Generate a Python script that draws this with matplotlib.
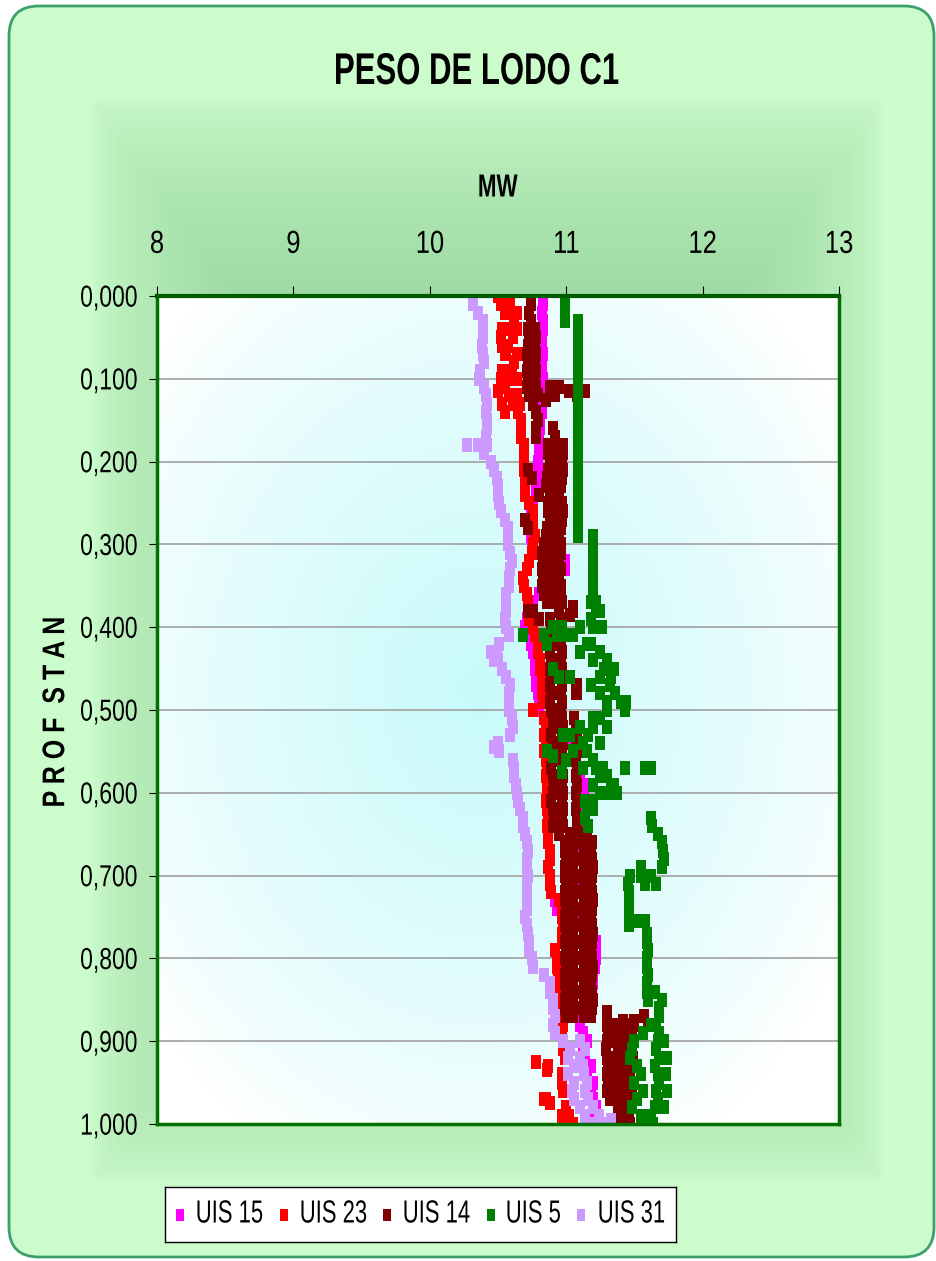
import numpy as np
import matplotlib
matplotlib.use("Agg")
import matplotlib.pyplot as plt
from matplotlib.patches import FancyBboxPatch
from matplotlib.patheffects import AbstractPathEffect
from matplotlib.transforms import Affine2D
from matplotlib.path import Path
from matplotlib.ticker import FuncFormatter

# ---- datos (profundidad estandarizada 0..1, paso 0.01) ----
depth = np.round(np.linspace(0, 1, 101), 2)
nan = np.nan

uis15 = [10.83, 10.83, 10.82, 10.83, 10.83, 10.82, 10.82, 10.83, 10.82, 10.82,
         10.83, 10.82, 10.82, 10.82, 10.82, 10.81, 10.81, 10.80, 10.80, 10.80,
         10.79, 10.79, 10.79, 10.78, 10.78, 10.76, 10.74, 10.73, 10.73, 10.74,
         10.75, 10.80, 10.99, 10.99, 10.90, 10.85, 10.80, 10.76, 10.73, 10.71,
         10.70, 10.72, 10.74, 10.76, 10.77, 10.77, 10.78, 10.78, 10.79, 10.80,
         10.80, 10.90, 10.95, 11.00, 11.03, 11.05, 11.06, 11.08, 11.10, 11.12,
         11.13, 11.12, 11.10, 11.08, 11.10, 11.12, 11.10, 11.10, 11.12, 11.13,
         11.12, 11.10, 11.10, 10.92, 10.93, 11.12, 11.15, 11.20, 11.22, 11.22,
         11.22, 11.21, 11.20, 11.20, 11.18, 11.15, 11.10, 11.08, 11.10, 11.12,
         11.15, 11.12, 11.14, 11.18, 11.15, 11.20, 11.18, 11.20, 11.22, 11.20, 11.20]

uis23 = [10.54, 10.59, 10.60, 10.62, 10.59, 10.61, 10.57, 10.56, 10.62, 10.60,
         10.58, 10.55, 10.58, 10.61, 10.65, 10.67, 10.67, 10.67, 10.69, 10.69,
         10.69, 10.69, 10.70, 10.70, 10.70, 10.73, 10.76, 10.76, 10.76, 10.77,
         10.76, 10.75, 10.73, 10.71, 10.68, 10.69, 10.71, 10.72, 10.72, 10.73,
         10.76, 10.77, 10.79, 10.79, 10.81, 10.81, 10.82, 10.82, 10.82, 10.83,
         10.76, 10.84, 10.85, 10.84, 10.85, 10.84, 10.85, 10.86, 10.85, 10.86,
         10.86, 10.85, 10.86, 10.87, 10.86, 10.87, 10.87, 10.88, 10.88, 10.87,
         10.88, 10.88, 10.89, 10.95, 10.97, 10.97, 10.98, 10.97, 10.97, 10.92,
         10.93, 10.93, 10.94, 10.93, 10.94, 10.94, 10.96, 10.97, 10.98, 10.97,
         10.98, 10.98, 10.99, 10.87, 10.97, 10.97, 10.98, 10.85, 11.00, 11.02, 11.05]
uis23_extra_depth = [0.00, 0.01, 0.02, 0.04, 0.05, 0.06, 0.07, 0.09, 0.10, 0.115, 0.13, 0.14,
                     0.02, 0.04, 0.07, 0.10, 0.12, 0.13,
                     0.925, 0.93, 0.935, 0.97, 0.975, 0.99, 1.00]
uis23_extra_mw = [10.50, 10.52, 10.55, 10.53, 10.52, 10.53, 10.55, 10.53, 10.52, 10.50, 10.53, 10.55,
                  10.64, 10.64, 10.64, 10.64, 10.64, 10.66,
                  10.78, 10.87, 10.86, 10.84, 10.88, 10.97, 11.00]

uis14_a = [10.74, 10.74, 10.73, 10.74, 10.72, 10.73, 10.72, 10.71, 10.72, 10.71,
           10.72, 10.71, 10.73, 10.76, 10.78, 10.79, 10.78, 10.78, 10.87, 10.87,
           10.88, 10.87, 10.86, 10.85, 10.80, 10.87, 10.87, 10.88, 10.86, 10.85,
           10.84, 10.82, 10.83, 10.82, 10.83, 10.82, 10.84, 10.86, 10.72, 10.80,
           10.89, 10.88, 10.89, 10.88, 10.89, 10.88, 10.89, 10.88, 10.89, 10.88,
           10.89, 10.90, 10.90, 10.89, 10.90, 10.91, 10.90, 10.89, 10.90, 10.91,
           10.90, 10.89, 10.90, 10.91, 10.90, 10.95, 10.99, 10.99, 11.00, 10.99,
           10.99, 11.00, 10.99, 10.99, 11.00, 10.99, 10.99, 11.00, 10.99, 11.00,
           10.99, 11.00, 10.99, 10.99, 11.00, 10.99, 10.99, 11.00, 11.30, 11.31,
           11.30, 11.29, 11.30, 11.31, 11.30, 11.31, 11.30, 11.32, 11.38, 11.40, 11.42]
uis14_b = [nan, nan, nan, nan, 10.77, 10.78, 10.77, 10.78, 10.77, 10.78,
           10.77, 10.78, 10.79, nan, nan, nan, 10.90, 10.92, 10.98, 10.98,
           10.97, 10.98, 10.97, 10.96, 10.95, 10.97, 10.98, 10.97, 10.96, 10.95,
           10.96, 10.96, 10.95, 10.96, 10.95, 10.96, 10.96, 10.97, 10.95, 10.96,
           10.96, 10.97, 10.96, 10.97, 10.96, 10.97, 10.96, 10.97, 10.96, 10.97,
           10.96, 10.97, 10.98, 10.97, 10.98, 10.97, 10.98, 10.97, 10.98, 10.97,
           10.98, 10.97, 10.98, 10.97, 10.98, 11.03, 11.06, 11.05, 11.06, 11.05,
           11.06, 11.05, 11.06, 11.05, 11.06, 11.05, 11.06, 11.05, 11.06, 11.05,
           11.06, 11.05, 11.06, 11.05, 11.06, 11.05, 11.06, 11.05, 11.37, 11.38,
           11.37, 11.38, 11.37, 11.38, 11.37, 11.38, 11.37, 11.38, 11.45, 11.46, 11.47]
uis14_c = [nan, nan, nan, nan, nan, nan, nan, nan, nan, nan,
           nan, nan, nan, nan, nan, nan, nan, nan, 10.92, 10.93,
           10.92, 10.93, 10.91, 10.91, 10.88, 10.92, 10.93, 10.92, 10.91, 10.90,
           10.89, 10.89, 10.90, 10.89, 10.90, 10.89, 10.90, 10.91, 11.05, 10.88,
           nan, nan, nan, nan, nan, nan, nan, 11.08, 11.08, nan,
           nan, 11.06, 11.07, 11.08, 11.07, 11.08, 11.07, 11.08, 11.07, 11.08,
           11.07, 11.08, 11.07, 11.08, 11.08, 11.10, 11.12, 11.13, 11.12, 11.13,
           11.12, 11.13, 11.12, 11.13, 11.12, 11.13, 11.12, 11.13, 11.12, 11.13,
           11.12, 11.13, 11.12, 11.13, 11.12, 11.13, 11.12, 11.13, 11.44, 11.45,
           11.44, 11.45, 11.44, 11.45, 11.44, 11.45, 11.44, 11.44, nan, nan, nan]
uis14_d = [nan] * 65 + [11.15, 11.19, 11.18, 11.19, 11.20,
           11.19, 11.18, 11.19, 11.20, 11.19, 11.18, 11.19, 11.20, 11.19, 11.18,
           11.19, 11.20, 11.19, 11.18, 11.19, 11.20, 11.19, 11.18, 11.49, 11.48,
           11.49, 11.48, 11.49, 11.48, 11.47, 11.46, 11.48, 11.47, nan, nan, nan]
uis14_extra_depth = [0.11, 0.11, 0.115, 0.12, 0.115, 0.12, 0.125,
                     0.21, 0.22, 0.27, 0.28, 0.385, 0.375, 0.38, 0.47, 0.48,
                     0.865, 0.875, 0.875, 0.87, 0.88]
uis14_extra_mw = [10.88, 10.95, 11.02, 11.08, 11.14, 10.92, 10.85,
                  10.72, 10.75, 10.70, 10.72, 11.03, 11.05, 10.76, 11.07, 11.07,
                  11.30, 11.42, 11.50, 11.57, 11.60]

uis5 = [10.99, 10.99, 10.99, 10.99, 11.09, 11.09, 11.09, 11.09, 11.09, 11.09,
        11.09, 11.09, 11.09, 11.09, 11.09, 11.09, 11.09, 11.09, 11.09, 11.09,
        11.09, 11.09, 11.09, 11.09, 11.09, 11.09, 11.09, 11.09, 11.09, 11.09,
        11.20, 11.20, 11.20, 11.20, 11.20, 11.20, 11.20, 11.22, 11.22, 11.18,
        11.10, 11.05, 11.18, 11.25, 11.30, 11.28, 11.25, 11.32, 11.36, 11.40,
        11.30, 11.25, 11.20, 11.16, 11.12, 11.15, 11.20, 11.22, 11.30, 11.33,
        11.30, 11.20, 11.15, 11.14, 11.16, 11.67, 11.70, 11.71, 11.72, 11.70,
        11.47, 11.45, 11.46, 11.46, 11.46, 11.46, 11.46, 11.59, 11.59, 11.60,
        11.59, 11.59, 11.60, 11.59, 11.59, 11.60, 11.68, 11.68, 11.66, 11.68,
        11.67, 11.66, 11.68, 11.65, 11.67, 11.68, 11.66, 11.67, 11.65, 11.62, 11.64]
uis5_extra_depth = [0.03, 0.29, 0.37, 0.38, 0.40, 0.40, 0.40, 0.40,
                    0.41, 0.41, 0.41, 0.42, 0.41, 0.42, 0.43, 0.44, 0.45, 0.46,
                    0.45, 0.46, 0.46, 0.47, 0.48, 0.49, 0.50, 0.49,
                    0.51, 0.52, 0.53, 0.53, 0.52, 0.55, 0.555, 0.55, 0.56, 0.54,
                    0.57, 0.57, 0.57, 0.57, 0.575, 0.57, 0.58, 0.59, 0.60, 0.59, 0.60,
                    0.61, 0.62, 0.63, 0.64, 0.69, 0.70, 0.70, 0.71, 0.71, 0.755, 0.755,
                    0.84, 0.85, 0.88, 0.89, 0.90, 0.91, 0.92, 0.93, 0.94, 0.95, 0.96,
                    0.97, 0.98, 0.99, 0.90, 0.92, 0.94, 0.96, 0.98, 1.00]
uis5_extra_mw = [11.09, 11.20, 11.18, 11.25, 11.20, 11.26, 10.90, 10.97,
                 10.68, 10.84, 10.93, 10.86, 11.00, 11.15, 11.10, 11.20, 11.35, 11.33,
                 10.90, 10.95, 11.03, 11.18, 11.25, 11.44, 11.43, 11.30,
                 11.20, 11.10, 10.98, 11.03, 11.30, 10.86, 10.90, 11.05, 11.00, 11.25,
                 11.27, 11.43, 11.58, 11.62, 10.97, 11.12, 11.25, 11.35, 11.37, 11.20, 11.25,
                 11.14, 11.20, 11.62, 11.63, 11.55, 11.55, 11.62, 11.66, 11.58, 11.52, 11.58,
                 11.65, 11.70, 11.62, 11.56, 11.50, 11.48, 11.47, 11.52, 11.55, 11.50, 11.56,
                 11.52, 11.48, 11.55, 11.72, 11.74, 11.73, 11.74, 11.72, 11.64]

uis31 = [10.32, 10.32, 10.35, 10.39, 10.39, 10.39, 10.38, 10.39, 10.40, 10.37,
         10.36, 10.40, 10.41, 10.42, 10.41, 10.42, 10.42, 10.41, 10.27, 10.40,
         10.45, 10.47, 10.49, 10.50, 10.50, 10.51, 10.52, 10.55, 10.57, 10.57,
         10.57, 10.59, 10.60, 10.59, 10.58, 10.58, 10.56, 10.56, 10.56, 10.55,
         10.56, 10.58, 10.51, 10.49, 10.47, 10.53, 10.56, 10.59, 10.58, 10.58,
         10.58, 10.60, 10.61, 10.59, 10.50, 10.51, 10.61, 10.62, 10.62, 10.63,
         10.64, 10.65, 10.66, 10.68, 10.68, 10.70, 10.71, 10.72, 10.71, 10.71,
         10.72, 10.71, 10.71, 10.71, 10.71, 10.70, 10.71, 10.72, 10.73, 10.73,
         10.75, 10.76, 10.84, 10.88, 10.88, 10.90, 10.90, 10.92, 10.90, 10.92,
         10.98, 11.03, 11.01, 11.06, 11.01, 11.06, 11.04, 11.06, 11.10, 11.14, 11.18]
uis31_extra_depth = [0.18, 0.18, 0.43, 0.44, 0.545, 0.90, 0.91, 0.92, 0.93, 0.94,
                     0.95, 0.96, 0.97, 0.98, 0.99, 1.00, 1.00, 0.995]
uis31_extra_mw = [10.35, 10.42, 10.45, 10.50, 10.47, 11.10, 11.14, 11.10, 11.12, 11.13,
                  11.15, 11.14, 11.16, 11.20, 11.24, 11.27, 11.22, 11.33]

series_names = ['UIS 15', 'UIS 23', 'UIS 14', 'UIS 5', 'UIS 31']
series_colors = ['#ff00ff', '#ff0000', '#800000', '#008000', '#cc99ff']


class Squeeze(AbstractPathEffect):
    """Escala el texto al dibujarlo (el original viene estrechado)."""

    def __init__(self, sx=1.0, sy=1.0, anchor='center'):
        super().__init__()
        self.sx, self.sy, self.anchor = sx, sy, anchor

    def draw_path(self, renderer, gc, tpath, affine, rgbFace=None):
        ext = tpath.get_extents(affine)
        if self.anchor == 'left':
            x0 = ext.x0
        elif self.anchor == 'right':
            x0 = ext.x1
        else:
            x0 = 0.5 * (ext.x0 + ext.x1)
        y0 = 0.5 * (ext.y0 + ext.y1)
        extra = Affine2D().translate(-x0, -y0).scale(self.sx, self.sy).translate(x0, y0)
        renderer.draw_path(gc, tpath, affine + extra, rgbFace)


plt.rcParams['font.family'] = ['Liberation Sans', 'DejaVu Sans']

W, H = 937, 1261
fig = plt.figure(figsize=(W / 100, H / 100), dpi=100)

# ---- fondo del grafico (verde con degradado) ----
bg = fig.add_axes([0, 0, 1, 1], zorder=-10)
bg.set_xlim(0, W)
bg.set_ylim(H, 0)
bg.axis('off')
yy, xx = np.mgrid[0:H, 0:W]
light = np.array([204, 252, 204]) / 255.0
dark = np.array([120, 190, 130]) / 255.0
t = np.maximum(np.abs(xx - 487) / 395.0, np.abs(yy - 640) / 540.0)
w = np.clip(1 - t, 0, 1) ** 0.6
img = light[None, None, :] + w[..., None] * (dark - light)[None, None, :]
marco = FancyBboxPatch((9, 6), 925, 1251, boxstyle='round,pad=0,rounding_size=30',
                       facecolor='none', edgecolor='#3c9f6c', lw=2, zorder=5)
bg.add_patch(marco)
im = bg.imshow(img, extent=[0, W, H, 0], aspect='auto', zorder=1)
im.set_clip_path(marco)

# ---- area de trazado ----
ax = fig.add_axes([157 / W, 1 - 1124 / H, 682 / W, 828 / H])
py, px = np.mgrid[0:828, 0:682]
r = np.sqrt(((px - 323) / 420.0) ** 2 + ((py - 394) / 520.0) ** 2)
wc = np.clip(1 - r, 0, 1) ** 0.8
cyan = np.array([200, 250, 250]) / 255.0
pimg = 1 + wc[..., None] * (cyan - 1)[None, None, :]
ax.imshow(pimg, extent=[8, 13, 1, 0], aspect='auto', zorder=0)

# marcador rectangular (mas alto que ancho, como en el original)
rect = Path([(-0.73, -1), (0.73, -1), (0.73, 1), (-0.73, 1), (-0.73, -1)],
            [Path.MOVETO, Path.LINETO, Path.LINETO, Path.LINETO, Path.CLOSEPOLY])
ms = 9.4

partes = [
    [(depth, uis15)],
    [(depth, uis23), (uis23_extra_depth, uis23_extra_mw)],
    [(depth, uis14_a), (depth, uis14_b), (depth, uis14_c), (depth, uis14_d),
     (uis14_extra_depth, uis14_extra_mw)],
    [(depth, uis5), (uis5_extra_depth, uis5_extra_mw)],
    [(depth, uis31), (uis31_extra_depth, uis31_extra_mw)],
]
for k, color in enumerate(series_colors):
    for d, v in partes[k]:
        ax.plot(v, d, linestyle='none', marker=rect, ms=ms, mew=0,
                color=color, zorder=3 + k)

ax.set_xlim(8, 13)
ax.set_ylim(1, 0)
ax.set_xticks([8, 9, 10, 11, 12, 13])
ax.set_yticks(np.round(np.arange(0, 1.01, 0.1), 1))
ax.yaxis.set_major_formatter(FuncFormatter(lambda v, p: f"{v:.3f}".replace('.', ',')))
ax.xaxis.tick_top()
ax.yaxis.grid(True, color='#a0a0a0', lw=1.2)
ax.set_axisbelow(True)
ax.tick_params(axis='x', direction='out', length=7, width=0.8, pad=19, labelsize=23)
ax.tick_params(axis='y', direction='out', length=6, width=0.8, pad=8, labelsize=19)
for tk in ax.xaxis.get_major_ticks():
    tk.label1.set_path_effects([Squeeze(0.8)])
    tk.label2.set_path_effects([Squeeze(0.8)])
for tk in ax.yaxis.get_major_ticks():
    tk.label1.set_path_effects([Squeeze(0.87, 1.15, anchor='right')])
for s in ax.spines.values():
    s.set_color('#007000')
    s.set_linewidth(2.5)
    s.set_zorder(20)
ax.spines['top'].set_color('#005a00')
ax.spines['top'].set_linewidth(3)

fig.text(476.5 / W, 1 - 72.5 / H, 'PESO DE LODO C1', ha='center', va='center',
         fontsize=32, fontweight='bold', path_effects=[Squeeze(0.70)])
fig.text(497.5 / W, 1 - 188.5 / H, 'MW', ha='center', va='center',
         fontsize=23, fontweight='bold', path_effects=[Squeeze(0.70)])
fig.text(55 / W, 1 - 712 / H, 'P R O F  S T A N', ha='center', va='center', rotation=90,
         fontsize=18, fontweight='bold', path_effects=[Squeeze(1.25, 1.0)])

# ---- leyenda ----
lx0, ly0, lw_, lh_ = 165, 1187, 511, 55
lg = fig.add_axes([lx0 / W, 1 - (ly0 + lh_) / H, lw_ / W, lh_ / H], zorder=30)
lg.set_xlim(0, lw_)
lg.set_ylim(lh_, 0)
lg.set_xticks([])
lg.set_yticks([])
lg.set_facecolor('white')
for s in lg.spines.values():
    s.set_color('black')
    s.set_linewidth(1)
marker_x = [15, 119, 222, 326, 416]
text_x = [30, 134, 237, 340, 432]
for nombre, color, mx, tx in zip(series_names, series_colors, marker_x, text_x):
    lg.plot([mx], [lh_ / 2], linestyle='none', marker=rect, ms=8.6, mew=0, color=color)
    lg.text(tx, lh_ / 2, nombre, ha='left', va='center', fontsize=23,
            path_effects=[Squeeze(0.69, anchor='left')])

fig.savefig('out.png', dpi=100)
